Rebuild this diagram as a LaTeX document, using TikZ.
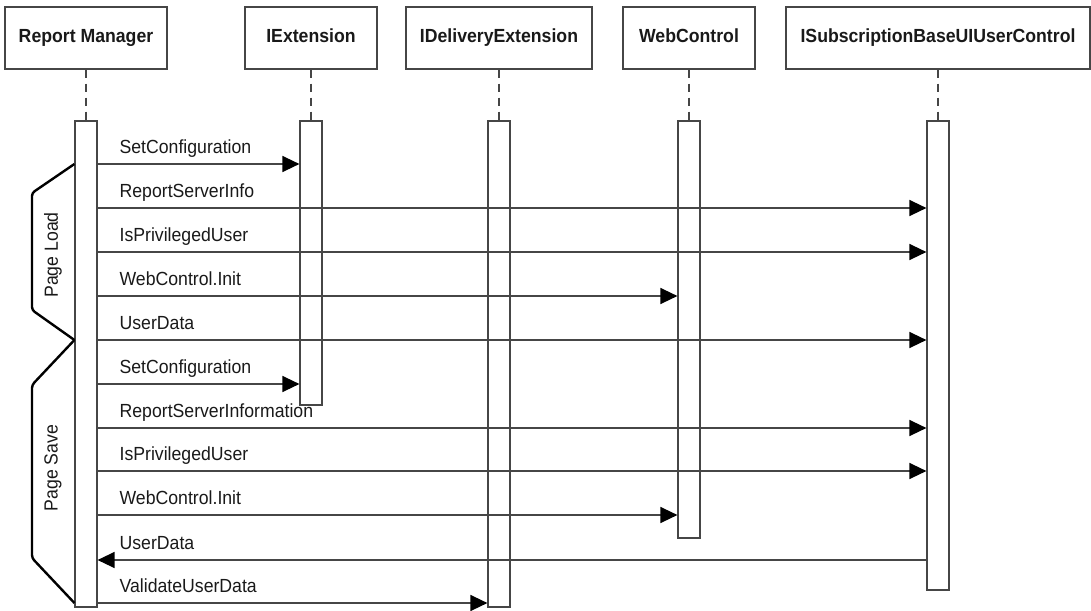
\documentclass[tikz,border=0pt]{standalone}
\usepackage{fontspec}
\setmainfont[FakeStretch=0.93]{Liberation Sans}
\usepackage{tikz}
\usetikzlibrary{arrows.meta,positioning}
\definecolor{LineGray}{RGB}{70,70,70}
\definecolor{TextBlack}{RGB}{25,25,25}

\tikzset{
  header/.style={draw=LineGray,line width=1.2pt,minimum height=62pt,inner sep=0pt,
    text height=14pt,text depth=4pt,
    text=TextBlack,font=\fontsize{19}{22}\selectfont\bfseries},
  act/.style={draw=LineGray,line width=1.2pt,fill=white,minimum width=22pt,inner sep=0pt},
  lifeline/.style={LineGray,line width=1.2pt,dash pattern=on 8pt off 6pt},
  msg/.style={-{Triangle[length=17pt,width=16pt,color=black]},LineGray,line width=1.4pt},
  msglabel/.style={anchor=base west,text=TextBlack,font=\fontsize{19}{22}\selectfont,
    xshift=18pt,yshift=11pt},
  phase/.style={black,line width=2.4pt,rounded corners=3pt},
  phaselabel/.style={rotate=90,text=TextBlack,font=\fontsize{19}{22}\selectfont}
}

\begin{document}
\begin{tikzpicture}[x=1pt,y=-1pt]
  \useasboundingbox (0,0) rectangle (1091,610);
  % objects
  \node[header,minimum width=162pt] (rm)  at (86,38)  {Report Manager};
  \node[header,minimum width=132pt] (ext) at (311,38) {IExtension};
  \node[header,minimum width=186pt] (del) at (499,38) {IDeliveryExtension};
  \node[header,minimum width=132pt] (web) at (689,38) {WebControl};
  \node[header,minimum width=304pt] (sub) at (938,38) {ISubscriptionBaseUIUserControl};
  % activations
  \node[act,minimum height=486pt] (aRM)  at (86,364)    {};
  \node[act,minimum height=284pt] (aExt) at (311,263)   {};
  \node[act,minimum height=486pt] (aDel) at (499,364)   {};
  \node[act,minimum height=417pt] (aWeb) at (689,329.5) {};
  \node[act,minimum height=469pt] (aSub) at (938,355.5) {};
  \draw[lifeline] (rm.south)  -- (aRM.north);
  \draw[lifeline] (ext.south) -- (aExt.north);
  \draw[lifeline] (del.south) -- (aDel.north);
  \draw[lifeline] (web.south) -- (aWeb.north);
  \draw[lifeline] (sub.south) -- (aSub.north);
  % page load
  \draw[msg] (aRM.east |- 0,164) -- (aExt.west |- 0,164)
    node[msglabel,pos=0] (m1) {SetConfiguration};
  \draw[msg] (aRM.east |- 0,208) -- (aSub.west |- 0,208)
    node[msglabel,pos=0] (m2) {ReportServerInfo};
  \draw[msg] (aRM.east |- 0,252) -- (aSub.west |- 0,252)
    node[msglabel,pos=0] (m3) {IsPrivilegedUser};
  \draw[msg] (aRM.east |- 0,296) -- (aWeb.west |- 0,296)
    node[msglabel,pos=0] (m4) {WebControl.Init};
  \draw[msg] (aRM.east |- 0,340) -- (aSub.west |- 0,340)
    node[msglabel,pos=0] (m5) {UserData};
  % page save
  \draw[msg] (aRM.east |- 0,384) -- (aExt.west |- 0,384)
    node[msglabel,pos=0] (m6) {SetConfiguration};
  \draw[msg] (aRM.east |- 0,428) -- (aSub.west |- 0,428)
    node[msglabel,pos=0] (m7) {ReportServerInformation};
  \draw[msg] (aRM.east |- 0,471) -- (aSub.west |- 0,471)
    node[msglabel,pos=0] (m8) {IsPrivilegedUser};
  \draw[msg] (aRM.east |- 0,515) -- (aWeb.west |- 0,515)
    node[msglabel,pos=0] (m9) {WebControl.Init};
  \draw[msg] (aSub.west |- 0,560) -- (aRM.east |- 0,560)
    node[msglabel,pos=1] (m10) {UserData};
  \draw[msg] (aRM.east |- 0,603) -- (aDel.west |- 0,603)
    node[msglabel,pos=0] (m11) {ValidateUserData};
  % phase brackets
  \draw[phase] (aRM.west |- 0,164) -- (32,193) -- (32,310) -- (aRM.west |- 0,340);
  \draw[phase] (aRM.west |- 0,340) -- (32,385) -- (32,558) -- (aRM.west |- 0,603);
  \node[phaselabel] (load) at (53,255) {Page Load};
  \node[phaselabel] (save) at (53,468) {Page Save};
\end{tikzpicture}
\end{document}
